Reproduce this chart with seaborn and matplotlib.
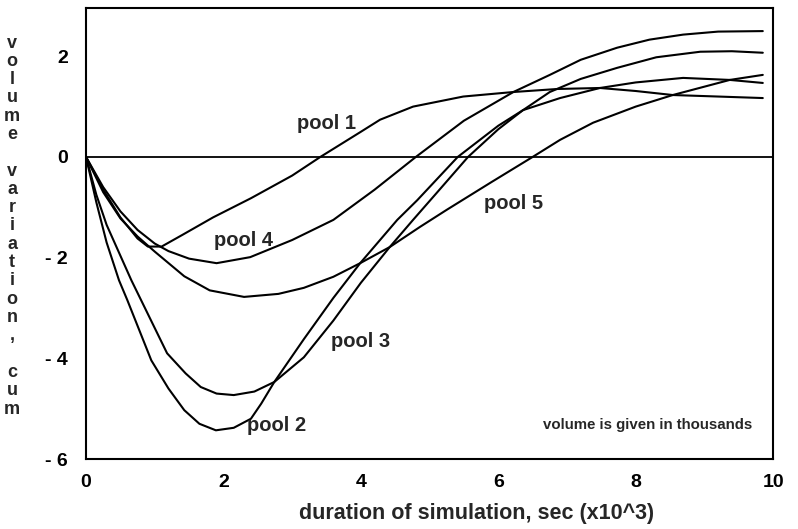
import pandas as pd
import matplotlib
matplotlib.use("Agg")
import matplotlib.pyplot as plt
import seaborn as sns

# values (x in 10^3 s, y in thousands cum)
pool1_x = [0, 0.25, 0.5, 0.75, 0.9, 1.1, 1.4, 1.85, 2.4, 3.0, 3.41, 4.0, 4.28, 4.76, 5.49, 6.22, 6.86, 7.48, 8.0, 8.54, 9.2, 9.85]
pool1_y = [0, -0.65, -1.2, -1.62, -1.78, -1.78, -1.55, -1.2, -0.82, -0.37, 0, 0.5, 0.74, 1.0, 1.2, 1.29, 1.35, 1.37, 1.31, 1.23, 1.2, 1.17]

pool2_x = [0, 0.15, 0.3, 0.48, 0.6, 0.95, 1.2, 1.43, 1.65, 1.89, 2.15, 2.4, 2.55, 2.74, 3.17, 3.6, 3.99, 4.53, 4.82, 5.41, 6.0, 6.36, 6.9, 7.48, 8.0, 8.69, 9.37, 9.85]
pool2_y = [0, -0.9, -1.7, -2.45, -2.84, -4.04, -4.6, -5.03, -5.3, -5.43, -5.38, -5.2, -4.9, -4.47, -3.62, -2.8, -2.11, -1.25, -0.86, 0, 0.62, 0.93, 1.17, 1.37, 1.48, 1.57, 1.53, 1.47]

pool3_x = [0, 0.15, 0.3, 0.66, 0.8, 1.18, 1.45, 1.67, 1.9, 2.15, 2.45, 2.74, 3.17, 3.6, 4.0, 4.42, 4.76, 5.1, 5.56, 6.0, 6.36, 6.75, 7.2, 7.73, 8.3, 8.94, 9.4, 9.85]
pool3_y = [0, -0.75, -1.35, -2.45, -2.84, -3.9, -4.3, -4.57, -4.7, -4.73, -4.66, -4.47, -3.98, -3.25, -2.5, -1.79, -1.25, -0.72, 0, 0.55, 0.93, 1.29, 1.55, 1.77, 1.98, 2.09, 2.1, 2.07]

pool4_x = [0, 0.25, 0.5, 0.75, 1.0, 1.2, 1.5, 1.9, 2.39, 3.0, 3.6, 4.2, 4.8, 5.5, 6.22, 6.75, 7.2, 7.73, 8.2, 8.69, 9.2, 9.85]
pool4_y = [0, -0.6, -1.08, -1.45, -1.72, -1.87, -2.02, -2.11, -1.99, -1.65, -1.25, -0.65, 0, 0.72, 1.29, 1.63, 1.93, 2.17, 2.33, 2.43, 2.49, 2.5]

pool5_x = [0, 0.25, 0.5, 0.75, 1.0, 1.43, 1.8, 2.3, 2.8, 3.17, 3.6, 3.99, 4.42, 4.86, 5.25, 5.9, 6.5, 6.9, 7.38, 8.0, 8.54, 9.37, 9.85]
pool5_y = [0, -0.7, -1.22, -1.58, -1.88, -2.37, -2.65, -2.78, -2.72, -2.6, -2.38, -2.11, -1.79, -1.39, -1.05, -0.5, 0, 0.34, 0.68, 1.0, 1.23, 1.53, 1.63]

pool_names = ["pool 1", "pool 2", "pool 3", "pool 4", "pool 5"]
label_x = [3.5, 2.78, 3.99, 2.29, 6.22]
label_y = [0.67, -5.33, -3.67, -1.65, -0.92]

x_ticks = [0, 2, 4, 6, 8, 10]
y_ticks = [-6, -4, -2, 0, 2]

xs = [pool1_x, pool2_x, pool3_x, pool4_x, pool5_x]
ys = [pool1_y, pool2_y, pool3_y, pool4_y, pool5_y]
frames = []
for name, px, py in zip(pool_names, xs, ys):
    frames.append(pd.DataFrame({"t": px, "v": py, "pool": name}))
df = pd.concat(frames, ignore_index=True)

sns.set_style("white")
plt.rcParams["font.family"] = ["Liberation Sans", "DejaVu Sans"]
plt.rcParams["font.weight"] = "bold"

fig = plt.figure(figsize=(7.98, 5.29), dpi=100)
ax = fig.add_axes([0.1078, 0.1323, 0.861, 0.8527])

sns.lineplot(data=df, x="t", y="v", hue="pool", palette=["black"] * 5,
             estimator=None, sort=False, legend=False, linewidth=1.5, ax=ax)
ax.axhline(0, color="black", linewidth=1.3)

ax.set_xlim(0, 10)
ax.set_ylim(-6, 2.96)
ax.set_xticks(x_ticks)
ax.set_yticks(y_ticks)
ax.tick_params(direction="in", length=7, width=1.2, labelsize=14, colors="black")
ax.tick_params(axis="x", pad=11)
ax.tick_params(axis="y", pad=13)
ax.set_yticklabels([str(v).replace("-", "- ") for v in y_ticks])
for sp in ax.spines.values():
    sp.set_visible(True)
    sp.set_color("black")
    sp.set_linewidth(1.5)

ax.set_xlabel("duration of simulation, sec (x10^3)", fontsize=15.5, fontweight="bold")
ax.xaxis.set_label_coords(0.568, -0.098)
ax.set_ylabel("")

for name, lx, ly in zip(pool_names, label_x, label_y):
    ax.text(lx, ly, name, fontsize=14.5, fontweight="bold", ha="center", va="center")
ax.text(8.17, -5.33, "volume is given in thousands", fontsize=10.8,
        fontweight="bold", ha="center", va="center")

ylab = "volume variation, cum"
fig.text(12 / 798, 1 - 226 / 529, "\n".join(ylab), fontsize=13, fontweight="bold",
         ha="center", va="center", linespacing=1.1)

fig.savefig("out.png", dpi=100)
